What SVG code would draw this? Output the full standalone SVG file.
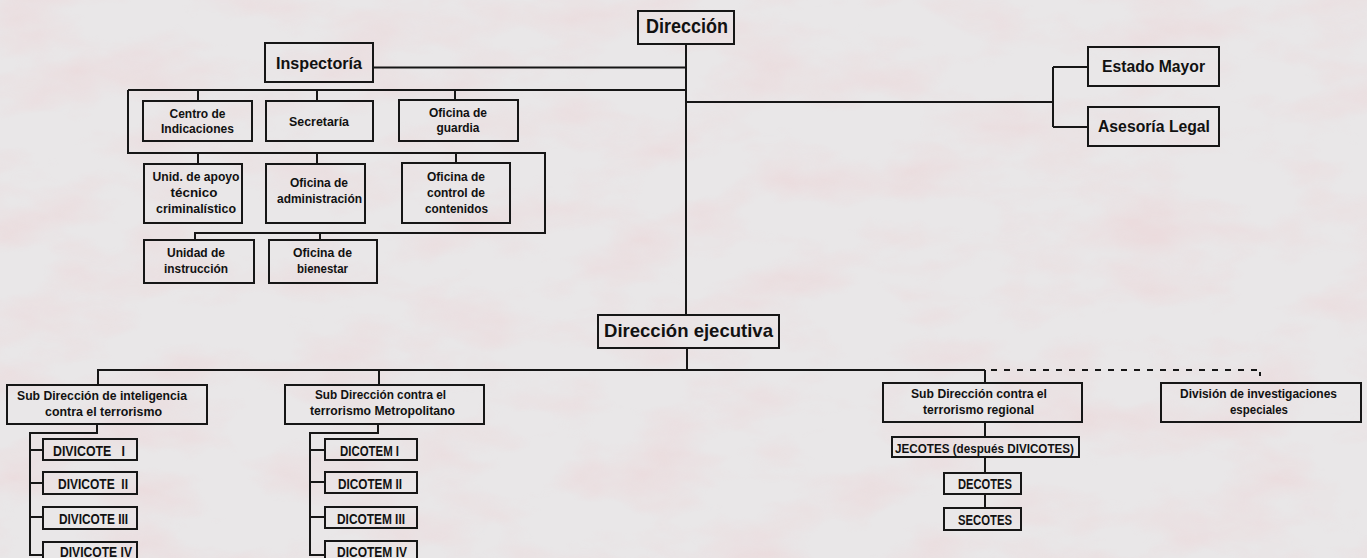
<svg xmlns="http://www.w3.org/2000/svg" width="1367" height="558" viewBox="0 0 1367 558">
<defs>
<style>
.bx{fill:none;stroke:#161616;stroke-width:2}
.ln{fill:none;stroke:#161616;stroke-width:2}
.dash{fill:none;stroke:#161616;stroke-width:2;stroke-dasharray:6 7}
.t{font-family:"Liberation Sans",Arial,sans-serif;font-weight:bold;fill:#111;text-anchor:middle}
.st{text-anchor:start}
.s13{font-size:13px}
.s14{font-size:14px}
.s16{font-size:17px}
</style>
<filter id="tex" x="0" y="0" width="100%" height="100%">
<feTurbulence type="fractalNoise" baseFrequency="0.01 0.02" numOctaves="4" seed="11"/>
<feColorMatrix type="matrix" values="0 0 0 0 0.86  0 0 0 0 0.6  0 0 0 0 0.62  1.8 0 0 0 -0.75"/>
</filter>
</defs>
<rect width="1367" height="558" fill="#e9e7e8"/>
<rect width="1367" height="558" filter="url(#tex)" opacity="0.45"/>

<g id="connectors">
<path class="ln" d="M686 44V315"/>
<path class="ln" d="M373 67.5H686"/>
<path class="ln" d="M128 90H686M198 90V101M317 90V101M455 90V100"/>
<path class="ln" d="M128 90V153H545V233H195V240M198 153V164M317 153V164M456 153V163M320 233V240"/>
<path class="ln" d="M686 102H1053M1053 67V127M1053 67H1088M1053 127H1088"/>
<path class="ln" d="M687 348V370"/>
<path class="ln" d="M97 370H985M98 370V386M379 370V385M985 370V383"/>
<path class="dash" d="M991 370H1260"/>
<path class="ln" d="M1260 372V376"/>
<path class="ln" d="M97 424V433H30V555H43M30 450H43M30 483H43M30 517H43"/>
<path class="ln" d="M378 424V433H310V555H325M310 450H325M310 482H325M310 517H325"/>
<path class="ln" d="M985 422V437M985 457V473M985 494V508"/>
</g>

<g id="n-direccion"><rect class="bx" x="638" y="11" width="96" height="33"/><text class="t" x="687" y="33" font-size="21" textLength="82" lengthAdjust="spacingAndGlyphs">Dirección</text></g>
<g id="n-inspectoria"><rect class="bx" x="265" y="43" width="108" height="39"/><text class="t s16" x="319" y="69" textLength="86" lengthAdjust="spacingAndGlyphs">Inspectoría</text></g>
<g id="n-estado"><rect class="bx" x="1088" y="47" width="131" height="39"/><text class="t s16" x="1153.5" y="72" textLength="103" lengthAdjust="spacingAndGlyphs">Estado Mayor</text></g>
<g id="n-asesoria"><rect class="bx" x="1088" y="107" width="131" height="39"/><text class="t s16" x="1154" y="132" textLength="112" lengthAdjust="spacingAndGlyphs">Asesoría Legal</text></g>

<g id="n-centro"><rect class="bx" x="143" y="101" width="109" height="40"/><text class="t s13" x="197.5" y="118" textLength="56" lengthAdjust="spacingAndGlyphs">Centro de</text><text class="t s13" x="197.5" y="133" textLength="73" lengthAdjust="spacingAndGlyphs">Indicaciones</text></g>
<g id="n-secretaria"><rect class="bx" x="266" y="101" width="107" height="40"/><text class="t s13" x="319" y="126" textLength="60" lengthAdjust="spacingAndGlyphs">Secretaría</text></g>
<g id="n-guardia"><rect class="bx" x="399" y="100" width="119" height="41"/><text class="t s13" x="458" y="117" textLength="58" lengthAdjust="spacingAndGlyphs">Oficina de</text><text class="t s13" x="458" y="132" textLength="43" lengthAdjust="spacingAndGlyphs">guardia</text></g>

<g id="n-unid"><rect class="bx" x="144" y="164" width="98" height="59"/><text class="t s13" x="196" y="181" textLength="87" lengthAdjust="spacingAndGlyphs">Unid. de apoyo</text><text class="t s13" x="194" y="197" textLength="47" lengthAdjust="spacingAndGlyphs">técnico</text><text class="t s13" x="196" y="213" textLength="80" lengthAdjust="spacingAndGlyphs">criminalístico</text></g>
<g id="n-admin"><rect class="bx" x="266" y="164" width="99" height="59"/><text class="t s13" x="319" y="187" textLength="58" lengthAdjust="spacingAndGlyphs">Oficina de</text><text class="t s13" x="319.5" y="203" textLength="85" lengthAdjust="spacingAndGlyphs">administración</text></g>
<g id="n-control"><rect class="bx" x="402" y="163" width="108" height="60"/><text class="t s13" x="456" y="181" textLength="58" lengthAdjust="spacingAndGlyphs">Oficina de</text><text class="t s13" x="456" y="197" textLength="58" lengthAdjust="spacingAndGlyphs">control de</text><text class="t s13" x="456.5" y="213" textLength="63" lengthAdjust="spacingAndGlyphs">contenidos</text></g>

<g id="n-instruccion"><rect class="bx" x="144" y="240" width="110" height="43"/><text class="t s13" x="196" y="257" textLength="58" lengthAdjust="spacingAndGlyphs">Unidad de</text><text class="t s13" x="196" y="273" textLength="64" lengthAdjust="spacingAndGlyphs">instrucción</text></g>
<g id="n-bienestar"><rect class="bx" x="269" y="240" width="108" height="43"/><text class="t s13" x="322.5" y="257" textLength="59" lengthAdjust="spacingAndGlyphs">Oficina de</text><text class="t s13" x="322.5" y="273" textLength="51" lengthAdjust="spacingAndGlyphs">bienestar</text></g>

<g id="n-ejecutiva"><rect class="bx" x="598" y="315" width="181" height="33"/><text class="t" x="688.5" y="337" font-size="19" textLength="169" lengthAdjust="spacingAndGlyphs">Dirección ejecutiva</text></g>

<g id="n-sub-int"><rect class="bx" x="7" y="385" width="200" height="39"/><text class="t s13" x="102" y="400" textLength="170" lengthAdjust="spacingAndGlyphs">Sub Dirección de inteligencia</text><text class="t s13" x="103.5" y="416" textLength="117" lengthAdjust="spacingAndGlyphs">contra el terrorismo</text></g>
<g id="n-sub-metro"><rect class="bx" x="285" y="385" width="199" height="39"/><text class="t s13" x="380.5" y="399" textLength="131" lengthAdjust="spacingAndGlyphs">Sub Dirección contra el</text><text class="t s13" x="382.5" y="415" textLength="145" lengthAdjust="spacingAndGlyphs">terrorismo Metropolitano</text></g>
<g id="n-sub-reg"><rect class="bx" x="883" y="383" width="199" height="39"/><text class="t s13" x="979" y="398" textLength="136" lengthAdjust="spacingAndGlyphs">Sub Dirección contra el</text><text class="t s13" x="978.5" y="414" textLength="111" lengthAdjust="spacingAndGlyphs">terrorismo regional</text></g>
<g id="n-division"><rect class="bx" x="1161" y="383" width="200" height="39"/><text class="t s13" x="1258.5" y="398" textLength="157" lengthAdjust="spacingAndGlyphs">División de investigaciones</text><text class="t s13" x="1259" y="414" textLength="58" lengthAdjust="spacingAndGlyphs">especiales</text></g>

<g id="n-divicote1"><rect class="bx" x="43" y="439" width="94" height="21"/><text class="t st s14" x="53" y="455.5" textLength="72" lengthAdjust="spacingAndGlyphs" xml:space="preserve">DIVICOTE   I</text></g>
<g id="n-divicote2"><rect class="bx" x="43" y="472" width="94" height="22"/><text class="t st s14" x="58" y="489" textLength="70" lengthAdjust="spacingAndGlyphs" xml:space="preserve">DIVICOTE  II</text></g>
<g id="n-divicote3"><rect class="bx" x="43" y="507" width="94" height="22"/><text class="t st s14" x="59" y="524" textLength="69" lengthAdjust="spacingAndGlyphs">DIVICOTE III</text></g>
<g id="n-divicote4"><rect class="bx" x="43" y="542" width="94" height="24"/><text class="t st s14" x="60" y="557" textLength="72" lengthAdjust="spacingAndGlyphs">DIVICOTE IV</text></g>

<g id="n-dicotem1"><rect class="bx" x="325" y="439" width="92" height="21"/><text class="t s14" x="369.5" y="455.5" textLength="59" lengthAdjust="spacingAndGlyphs">DICOTEM I</text></g>
<g id="n-dicotem2"><rect class="bx" x="325" y="472" width="92" height="21"/><text class="t s14" x="370" y="489" textLength="64" lengthAdjust="spacingAndGlyphs">DICOTEM II</text></g>
<g id="n-dicotem3"><rect class="bx" x="325" y="507" width="92" height="21"/><text class="t s14" x="371" y="524" textLength="68" lengthAdjust="spacingAndGlyphs">DICOTEM III</text></g>
<g id="n-dicotem4"><rect class="bx" x="325" y="541" width="92" height="25"/><text class="t s14" x="372" y="557" textLength="70" lengthAdjust="spacingAndGlyphs">DICOTEM IV</text></g>

<g id="n-jecotes"><rect class="bx" x="892" y="437" width="187" height="20"/><text class="t s13" x="984.5" y="452.5" textLength="179" lengthAdjust="spacingAndGlyphs">JECOTES (después DIVICOTES)</text></g>
<g id="n-decotes"><rect class="bx" x="944" y="473" width="77" height="21"/><text class="t s14" x="985" y="489" textLength="54" lengthAdjust="spacingAndGlyphs">DECOTES</text></g>
<g id="n-secotes"><rect class="bx" x="944" y="508" width="77" height="22"/><text class="t s14" x="985" y="524.5" textLength="54" lengthAdjust="spacingAndGlyphs">SECOTES</text></g>
</svg>
